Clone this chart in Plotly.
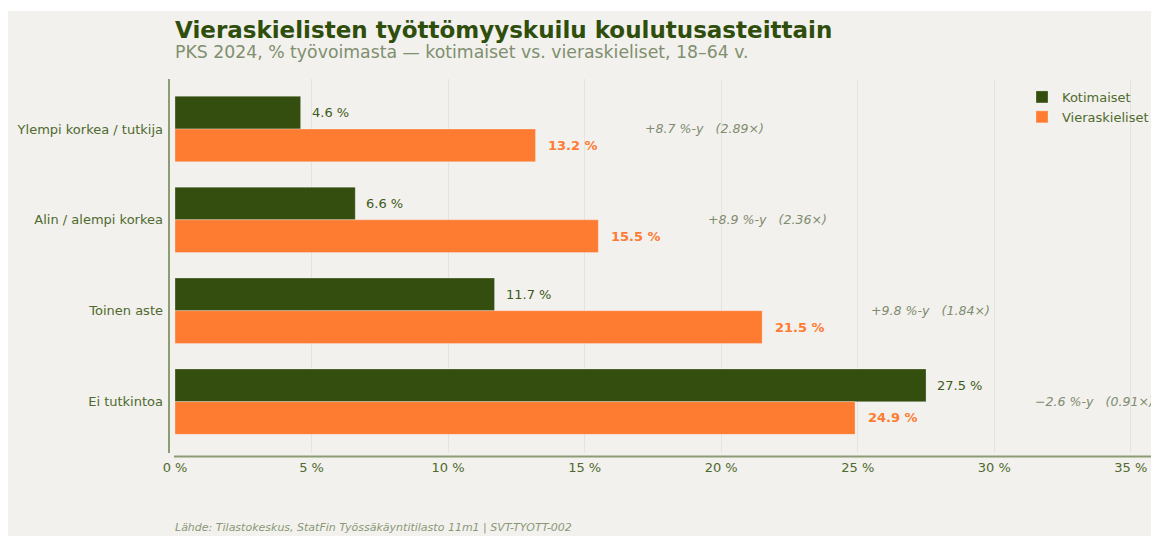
import plotly.graph_objects as go

# ---- data ----
categories = ["Ylempi korkea / tutkija", "Alin / alempi korkea", "Toinen aste", "Ei tutkintoa"]
kotimaiset = [4.6, 6.6, 11.7, 27.5]
vieraskieliset = [13.2, 15.5, 21.5, 24.9]
gap_pp = [8.7, 8.9, 9.8, -2.6]
gap_ratio = [2.89, 2.36, 1.84, 0.91]
x_tick_values = [0, 5, 10, 15, 20, 25, 30, 35]
x_tick_labels = ["0 %", "5 %", "10 %", "15 %", "20 %", "25 %", "30 %", "35 %"]
series_names = ["Kotimaiset", "Vieraskieliset"]

title_text = "Vieraskielisten työttömyyskuilu koulutusasteittain"
subtitle_text = "PKS 2024, % työvoimasta — kotimaiset vs. vieraskieliset, 18–64 v."
source_text = "Lähde: Tilastokeskus, StatFin Työssäkäyntitilasto 11m1 | SVT-TYOTT-002"

# ---- styles ----
BG = "#F2F1ED"
DARK = "#344E10"
ORANGE = "#FE7B32"
TITLE_C = "#2F4E0C"
SUB_C = "#7F8F6F"
TICK_C = "#4F6A2F"
VAL_C = "#3E5A20"
GAP_C = "#7F8C70"
SRC_C = "#8A9878"
SPINE_C = "#8C9C74"
GRID_C = "#E4E3DE"
FONT = "DejaVu Sans"

OFF = 8  # page body margin
FW, FH = 1159 - OFF, 536 - OFF
ML, MR, MT, MB = 175 - OFF, 0, 79 - OFF, FH - (453 - OFF)
PW = FW - ML - MR
PH = FH - MT - MB


def px_x(p):
    """page pixel x -> paper x"""
    return (p - OFF - ML) / PW


def px_y(p):
    """page pixel y -> paper y"""
    return (FH - MB - (p - OFF)) / PH


fig = go.Figure()
fig.add_trace(go.Bar(
    y=categories, x=kotimaiset, orientation="h", name=series_names[0],
    marker=dict(color=DARK, line=dict(color="rgba(255,255,255,0.35)", width=0.8)),
    hoverinfo="x+y",
))
fig.add_trace(go.Bar(
    y=categories, x=vieraskieliset, orientation="h", name=series_names[1],
    marker=dict(color=ORANGE, line=dict(color="rgba(255,255,255,0.35)", width=0.8)),
    hoverinfo="x+y",
))

annotations = []
for cat, k, v, g, r in zip(categories, kotimaiset, vieraskieliset, gap_pp, gap_ratio):
    annotations.append(dict(
        x=k, y=cat, xref="x", yref="y", text=f"{k:.1f} %", showarrow=False,
        xanchor="left", yanchor="middle", xshift=9, yshift=16.3,
        font=dict(family=FONT, size=13, color=VAL_C),
    ))
    annotations.append(dict(
        x=v, y=cat, xref="x", yref="y", text=f"<b>{v:.1f} %</b>", showarrow=False,
        xanchor="left", yanchor="middle", xshift=10.5, yshift=-16.3,
        font=dict(family=FONT, size=13, color=ORANGE),
    ))
    sign = "+" if g >= 0 else "\u2212"
    annotations.append(dict(
        x=max(k, v) + 4, y=cat, xref="x", yref="y",
        text=f"<i>{sign}{abs(g):.1f} %-y\u00a0\u00a0\u00a0({r:.2f}\u00d7)</i>",
        showarrow=False, xanchor="left", yanchor="middle", xshift=-2,
        font=dict(family=FONT, size=12.6, color=GAP_C),
    ))

annotations.append(dict(
    x=0, y=px_y(30), xref="paper", yref="paper", text=f"<b>{title_text}</b>",
    showarrow=False, xanchor="left", yanchor="middle", xshift=-2,
    font=dict(family=FONT, size=23, color=TITLE_C),
))
annotations.append(dict(
    x=0, y=px_y(51.5), xref="paper", yref="paper", text=subtitle_text,
    showarrow=False, xanchor="left", yanchor="middle", xshift=-2,
    font=dict(family=FONT, size=17.3, color=SUB_C),
))
annotations.append(dict(
    x=0, y=px_y(527), xref="paper", yref="paper", text=f"<i>{source_text}</i>",
    showarrow=False, xanchor="left", yanchor="middle", xshift=-2,
    font=dict(family=FONT, size=11, color=SRC_C),
))

shapes = [
    # thin white strip at the very top of the reference image
    dict(type="rect", xref="paper", yref="paper", x0=px_x(0), x1=px_x(1170),
         y0=px_y(11), y1=px_y(0), fillcolor="white", line=dict(width=0), layer="below"),
    # offset spines
    dict(type="line", xref="paper", yref="paper", x0=px_x(169), x1=px_x(169),
         y0=0, y1=1, line=dict(color=SPINE_C, width=2)),
    dict(type="line", xref="paper", yref="paper", x0=px_x(174), x1=1.0,
         y0=px_y(456.5), y1=px_y(456.5), line=dict(color=SPINE_C, width=2.2)),
]

fig.update_layout(
    width=FW, height=FH,
    margin=dict(l=ML, r=MR, t=MT, b=MB, pad=0),
    paper_bgcolor=BG, plot_bgcolor=BG,
    barmode="group", bargap=0.28, bargroupgap=0,
    font=dict(family=FONT, size=13, color=TICK_C),
    showlegend=True,
    legend=dict(
        x=px_x(1022), y=px_y(82), xanchor="left", yanchor="top",
        bgcolor="rgba(0,0,0,0)", borderwidth=0,
        font=dict(family=FONT, size=13, color=TICK_C),
        traceorder="normal", tracegroupgap=0,
    ),
    annotations=annotations,
    shapes=shapes,
    xaxis=dict(
        range=[0, PW / 27.31], tickmode="array", tickvals=x_tick_values,
        ticktext=x_tick_labels, showgrid=True, gridcolor=GRID_C, gridwidth=1,
        zeroline=False, showline=False, ticks="", ticklabelstandoff=5,
        tickfont=dict(family=FONT, size=13, color=TICK_C), fixedrange=True,
    ),
    yaxis=dict(
        type="category", categoryorder="array", categoryarray=categories,
        range=[3.565, -0.55], showgrid=False, zeroline=False, showline=False,
        ticks="", ticklabelstandoff=11,
        tickfont=dict(family=FONT, size=13, color=TICK_C), fixedrange=True,
    ),
)

fig.write_html("out.html")
